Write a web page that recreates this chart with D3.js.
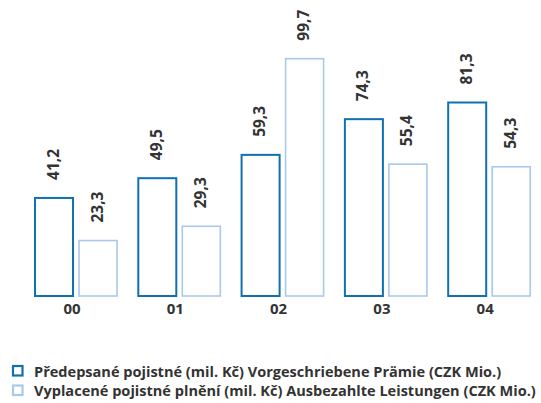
<!DOCTYPE html>
<html>
<head>
<meta charset="utf-8">
<script src="https://cdn.jsdelivr.net/npm/d3@7"></script>
<style>
  body { margin: 0; background: #fff; }
  text { font-family: "Open Sans", "DejaVu Sans", sans-serif; font-weight: bold; fill: #333; }
</style>
</head>
<body>
<div id="c1"></div>
<script>
// Data
var years = ["00", "01", "02", "03", "04"];
var premiums = [41.2, 49.5, 59.3, 74.3, 81.3];
var claims = [23.3, 29.3, 99.7, 55.4, 54.3];
var seriesNames = [
  "Předepsané pojistné (mil. Kč) Vorgeschriebene Prämie (CZK Mio.)",
  "Vyplacené pojistné plnění (mil. Kč) Ausbezahlte Leistungen (CZK Mio.)"
];
var colors = ["#1170b0", "#a9c9ea"];

var w = 541, h = 403;

var svg = d3.select("#c1").append("svg")
  .attr("width", w)
  .attr("height", h);

// year groups: 82px wide, 103.3px apart
var x = d3.scaleBand()
  .domain(years)
  .range([35, 530.2])
  .paddingInner(0.206)
  .paddingOuter(0);

var inner = d3.scaleBand()
  .domain([0, 1])
  .range([0, x.bandwidth()])
  .paddingInner(0.136);

var y = d3.scaleLinear()
  .domain([0, 100])
  .range([296, 58]);

var rows = [];
years.forEach(function (yr, i) {
  rows.push({ year: yr, s: 0, v: premiums[i] });
  rows.push({ year: yr, s: 1, v: claims[i] });
});

var fmt = function (v) { return d3.format(".1f")(v).replace(".", ","); };

svg.selectAll("rect.bar")
  .data(rows)
  .enter().append("rect")
  .attr("class", "bar")
  .attr("x", function (d) { return x(d.year) + inner(d.s); })
  .attr("y", function (d) { return y(d.v); })
  .attr("width", inner.bandwidth())
  .attr("height", function (d) { return y(0) - y(d.v); })
  .attr("fill", "none")
  .attr("stroke", function (d) { return colors[d.s]; })
  .attr("stroke-width", function (d) { return d.s == 0 ? 2 : 1.6; });

// value labels, rotated
var labels = svg.selectAll("g.val")
  .data(rows)
  .enter().append("g")
  .attr("class", "val")
  .attr("transform", function (d) {
    var cx = x(d.year) + inner(d.s) + inner.bandwidth() / 2 + 4.5;
    return "translate(" + cx + "," + (y(d.v) - 18) + ")";
  });

labels.append("text")
  .attr("transform", "rotate(-90)")
  .attr("font-size", 15.5)
  .text(function (d) { return fmt(d.v); });

// x axis labels
var axis = svg.append("g")
  .attr("transform", "translate(0,296)")
  .call(d3.axisBottom(x).tickSize(0).tickPadding(7));
axis.select(".domain").remove();
axis.selectAll("text")
  .attr("font-size", 15)
  .attr("fill", "#333")
  .style("font-family", '"Open Sans", "DejaVu Sans", sans-serif')
  .style("font-weight", "bold")
  .attr("dx", -4);

// Legend
var legend = svg.selectAll("g.legend")
  .data(seriesNames)
  .enter().append("g")
  .attr("class", "legend")
  .attr("transform", function (d, i) { return "translate(13," + (366 + i * 19.5) + ")"; });

legend.append("rect")
  .attr("width", 9.5)
  .attr("height", 9.5)
  .attr("fill", "none")
  .attr("stroke", function (d, i) { return colors[i]; })
  .attr("stroke-width", 2.2);

var legendText = legend.append("text")
  .attr("x", 21)
  .attr("y", 10.5)
  .attr("font-size", 14)
  .text(function (d) { return d; });

// fit legend text to the widths seen in the reference
var targets = [491, 502];
var k = d3.min(legendText.nodes(), function (n, i) {
  return targets[i] / n.getComputedTextLength();
});
legendText.attr("font-size", 14 * k);
</script>
</body>
</html>
